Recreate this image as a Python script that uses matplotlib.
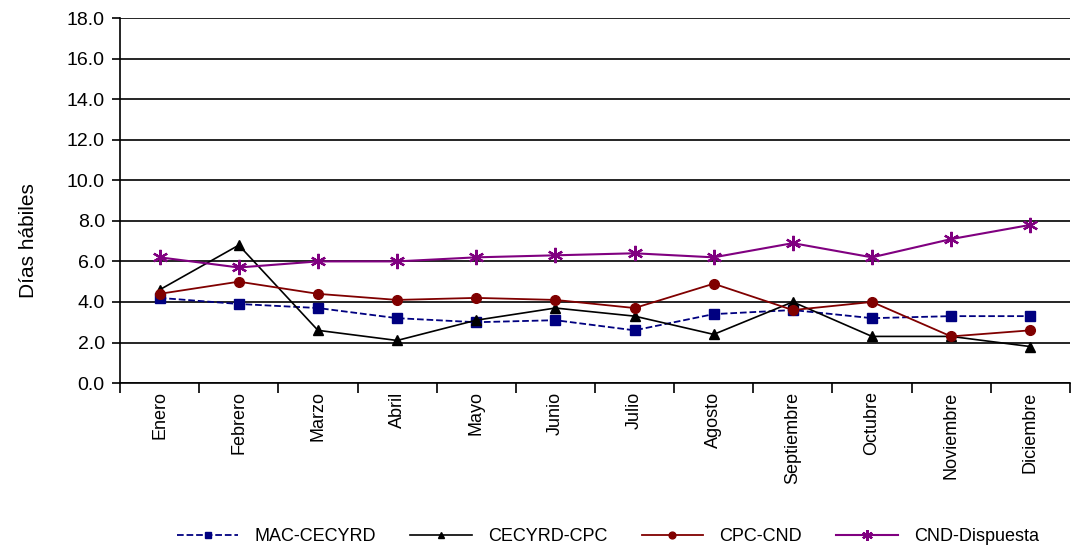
import numpy as np
import matplotlib
matplotlib.use("Agg")
from matplotlib import pyplot as plt

plt.rcParams['font.family'] = ['Liberation Sans', 'DejaVu Sans']

meses = ['Enero', 'Febrero', 'Marzo', 'Abril', 'Mayo', 'Junio', 'Julio',
         'Agosto', 'Septiembre', 'Octubre', 'Noviembre', 'Diciembre']

mac_cecyrd = [4.2, 3.9, 3.7, 3.2, 3.0, 3.1, 2.6, 3.4, 3.6, 3.2, 3.3, 3.3]
cecyrd_cpc = [4.6, 6.8, 2.6, 2.1, 3.1, 3.7, 3.3, 2.4, 4.0, 2.3, 2.3, 1.8]
cpc_cnd = [4.4, 5.0, 4.4, 4.1, 4.2, 4.1, 3.7, 4.9, 3.6, 4.0, 2.3, 2.6]
cnd_dispuesta = [6.2, 5.7, 6.0, 6.0, 6.2, 6.3, 6.4, 6.2, 6.9, 6.2, 7.1, 7.8]

fig = plt.figure(figsize=(10.72, 5.48), dpi=100)
ax = fig.add_axes([0.112, 0.301, 0.886, 0.666])

x = np.arange(len(meses))
ax.plot(x, mac_cecyrd, color='#000080', ls='--', lw=1.3, marker='s', ms=7,
        label='MAC-CECYRD')
ax.plot(x, cecyrd_cpc, color='black', lw=1.2, marker='^', ms=7,
        label='CECYRD-CPC')
ax.plot(x, cpc_cnd, color='#800000', lw=1.3, marker='o', ms=7,
        label='CPC-CND')
ax.plot(x, cnd_dispuesta, color='#800080', lw=1.5, marker=(6, 2, 0), ms=11,
        mew=1.6, label='CND-Dispuesta')

ax.set_xlim(-0.5, len(meses) - 0.5)
ax.set_ylim(0, 18)
ax.set_yticks(np.arange(0, 18.1, 2))
ax.set_yticklabels(['%.1f' % v for v in np.arange(0, 18.1, 2)], fontsize=14)
ax.yaxis.grid(True, color='black', lw=1.2)
ax.set_axisbelow(True)

# ticks between categories, labels at centres
ax.set_xticks(np.arange(-0.5, len(meses), 1))
ax.set_xticklabels([])
ax.set_xticks(x, minor=True)
ax.set_xticklabels(meses, minor=True, rotation=90, fontsize=13)
ax.tick_params(axis='x', which='minor', length=0, pad=6)
ax.tick_params(axis='x', which='major', length=7, width=1.2, direction='out')
ax.tick_params(axis='y', length=6, width=1.2, direction='out', pad=5)

for s in ['top', 'right']:
    ax.spines[s].set_visible(False)
ax.spines['left'].set_linewidth(1.2)
ax.spines['bottom'].set_linewidth(1.2)

ax.set_ylabel('Días hábiles', fontsize=15)
ax.yaxis.set_label_coords(-0.086, 0.39)

fig.legend(loc='lower center', bbox_to_anchor=(0.567, -0.024), ncol=4,
           frameon=False, fontsize=13, handlelength=3.4, handletextpad=0.9,
           columnspacing=1.9, markerscale=0.7)

fig.savefig('out.png', dpi=100)
